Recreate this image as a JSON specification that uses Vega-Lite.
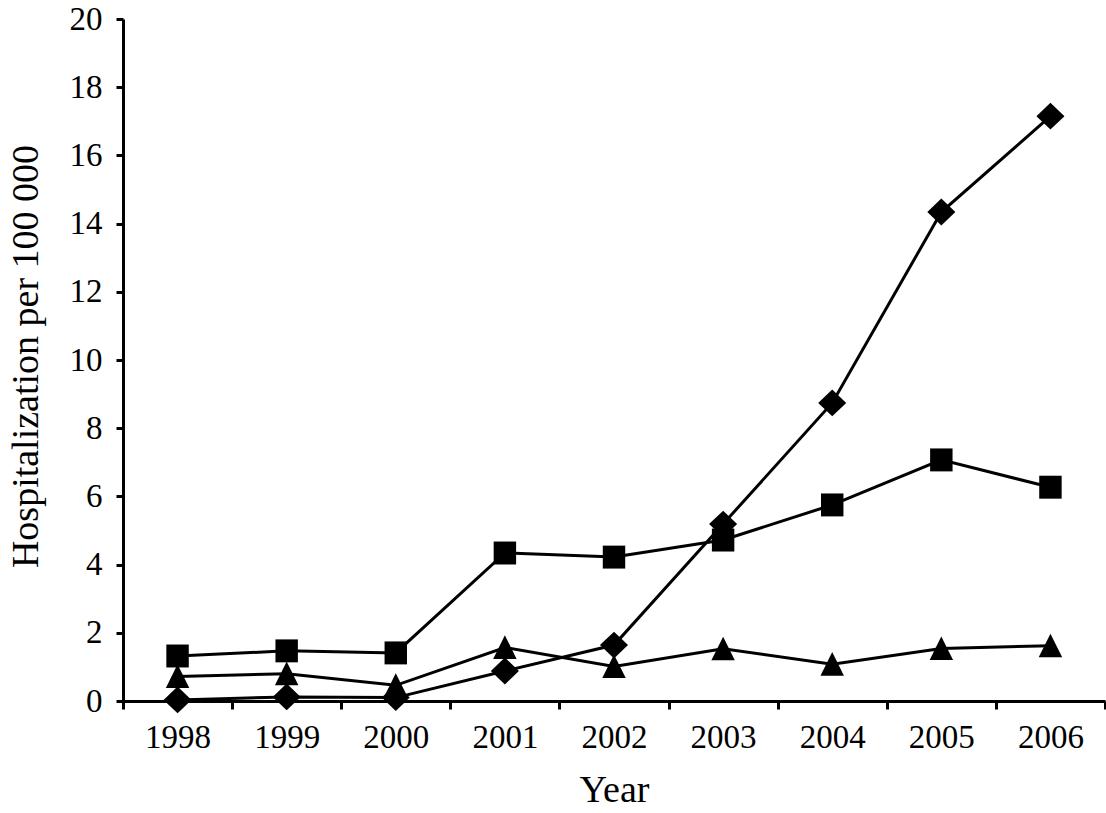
{
  "$schema": "https://vega.github.io/schema/vega-lite/v6.json",
  "autosize": {"type": "none"},
  "padding": {"left": 123, "top": 19, "right": 1, "bottom": 112},
  "width": 982,
  "height": 682,
  "background": "white",
  "config": {
    "view": {"stroke": null},
    "font": "Liberation Serif"
  },
  "data": {
    "values": [
      {"year": "1998", "series": "A", "rate": 0.03},
      {"year": "1999", "series": "A", "rate": 0.12},
      {"year": "2000", "series": "A", "rate": 0.1},
      {"year": "2001", "series": "A", "rate": 0.88},
      {"year": "2002", "series": "A", "rate": 1.64},
      {"year": "2003", "series": "A", "rate": 5.19},
      {"year": "2004", "series": "A", "rate": 8.74},
      {"year": "2005", "series": "A", "rate": 14.34},
      {"year": "2006", "series": "A", "rate": 17.15},
      {"year": "1998", "series": "B", "rate": 1.32},
      {"year": "1999", "series": "B", "rate": 1.47},
      {"year": "2000", "series": "B", "rate": 1.41},
      {"year": "2001", "series": "B", "rate": 4.34},
      {"year": "2002", "series": "B", "rate": 4.22},
      {"year": "2003", "series": "B", "rate": 4.72},
      {"year": "2004", "series": "B", "rate": 5.75},
      {"year": "2005", "series": "B", "rate": 7.07},
      {"year": "2006", "series": "B", "rate": 6.27},
      {"year": "1998", "series": "C", "rate": 0.72},
      {"year": "1999", "series": "C", "rate": 0.8},
      {"year": "2000", "series": "C", "rate": 0.46},
      {"year": "2001", "series": "C", "rate": 1.57},
      {"year": "2002", "series": "C", "rate": 1.01},
      {"year": "2003", "series": "C", "rate": 1.53},
      {"year": "2004", "series": "C", "rate": 1.08},
      {"year": "2005", "series": "C", "rate": 1.54},
      {"year": "2006", "series": "C", "rate": 1.62}
    ]
  },
  "encoding": {
    "x": {
      "field": "year",
      "type": "ordinal",
      "scale": {"type": "band", "paddingInner": 0, "paddingOuter": 0},
      "axis": {
        "title": "Year",
        "labelAngle": 0,
        "tickBand": "extent",
        "domainColor": "black",
        "domainWidth": 3,
        "tickColor": "black",
        "tickWidth": 3,
        "tickSize": 8,
        "labelFontSize": 33,
        "labelColor": "black",
        "labelPadding": 12,
        "titleFontSize": 38,
        "titleFontWeight": "normal",
        "titleColor": "black",
        "titleBaseline": "middle",
        "titleY": 89
      }
    },
    "y": {
      "field": "rate",
      "type": "quantitative",
      "scale": {"domain": [0, 20], "nice": false},
      "axis": {
        "title": "Hospitalization per 100 000",
        "values": [0, 2, 4, 6, 8, 10, 12, 14, 16, 18, 20],
        "grid": false,
        "domainColor": "black",
        "domainWidth": 3,
        "tickColor": "black",
        "tickWidth": 3,
        "tickSize": 7,
        "labelFontSize": 33,
        "labelColor": "black",
        "labelPadding": 14,
        "titleFontSize": 38,
        "titleFontWeight": "normal",
        "titleColor": "black",
        "titleAngle": -90,
        "titleBaseline": "middle",
        "titleAlign": "center",
        "titleX": -97,
        "titleY": 337
      }
    },
    "detail": {"field": "series"}
  },
  "layer": [
    {
      "mark": {"type": "line", "color": "black", "strokeWidth": 3}
    },
    {
      "mark": {"type": "point", "filled": true, "color": "black", "opacity": 1, "size": 650, "strokeWidth": 0},
      "encoding": {
        "shape": {
          "field": "series",
          "type": "nominal",
          "scale": {
            "domain": ["A", "B", "C"],
            "range": [
              "M-1.1,0L0,-1.05L1.1,0L0,1.05Z",
              "M-0.88,-0.9L0.88,-0.9L0.88,0.9L-0.88,0.9Z",
              "M0,-0.95L-0.92,0.9L0.92,0.9Z"
            ]
          },
          "legend": null
        }
      }
    }
  ]
}
